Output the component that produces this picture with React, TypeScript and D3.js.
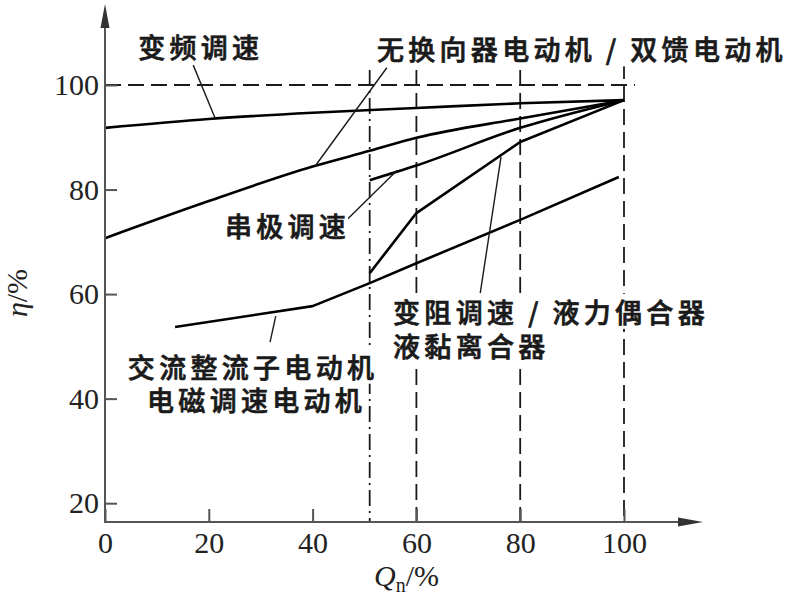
import React, { useRef, useEffect } from 'react';
import * as d3 from 'd3';

// flow rate Qn (%) and efficiency eta (%)
const vfdCurve = [
  { q: 0, eta: 91.8 }, { q: 20, eta: 93.5 }, { q: 40, eta: 94.7 },
  { q: 60, eta: 95.6 }, { q: 80, eta: 96.5 }, { q: 100, eta: 97.1 }
];
const commutatorlessCurve = [
  { q: 0, eta: 70.7 }, { q: 20, eta: 77.8 }, { q: 40, eta: 84.4 },
  { q: 51, eta: 87.4 }, { q: 60, eta: 89.9 }, { q: 80, eta: 93.6 }, { q: 100, eta: 97.1 }
];
const cascadeCurve = [
  { q: 51, eta: 81.8 }, { q: 60, eta: 84.6 }, { q: 80, eta: 91.8 }, { q: 100, eta: 97.1 }
];
const resistorCurve = [
  { q: 51, eta: 64.0 }, { q: 60, eta: 75.5 }, { q: 80, eta: 89.1 }, { q: 100, eta: 97.1 }
];
const commutatorCurve = [
  { q: 13.5, eta: 53.7 }, { q: 40, eta: 57.7 }, { q: 51, eta: 62.1 },
  { q: 60, eta: 65.9 }, { q: 80, eta: 74.2 }, { q: 99, eta: 82.4 }
];

const xTicks = [0, 20, 40, 60, 80, 100];
const yTicks = [20, 40, 60, 80, 100];
const dashedX = [60, 80, 100];
const dashDotX = 51;

// labels: text lines, anchor point (data units)
const labels = [
  { text: '变频调速', q: 6.4, eta: 107.3 },
  { text: '无换向器电动机\u2009/\u2009双馈电动机', q: 52.4, eta: 106.9 },
  { text: '串极调速', q: 23.1, eta: 73.2 },
  { text: '变阻调速\u2009/\u2009液力偶合器', q: 55.5, eta: 56.7 },
  { text: '液黏离合器', q: 55.5, eta: 50.2 },
  { text: '交流整流子电动机', q: 4.4, eta: 46.2 },
  { text: '电磁调速电动机', q: 8.1, eta: 39.9 }
];
const leaders = [
  [[17.0, 103.8], [21.2, 93.7]],
  [[54.3, 103.3], [40.5, 84.5]],
  [[46.6, 74.2], [56.3, 83.7]],
  [[72.3, 60.2], [76.3, 86.2]],
  [[31.8, 50.8], [32.9, 55.8]]
];

const App: React.FC = () => {
  const svgRef = useRef<SVGSVGElement | null>(null);

  useEffect(() => {
    const svg = d3.select(svgRef.current);
    svg.selectAll('*').remove();

    const x = d3.scaleLinear().domain([0, 100]).range([105, 624]);
    const y = d3.scaleLinear().domain([16.4, 100]).range([522, 85]);
    const axisColor = '#555';
    const ink = '#1a1a1a';

    // reference lines
    svg.append('line')
      .attr('x1', x(0)).attr('x2', 635)
      .attr('y1', y(100)).attr('y2', y(100))
      .attr('stroke', ink).attr('stroke-width', 1.8)
      .attr('stroke-dasharray', '16 7');

    svg.selectAll('.vdash')
      .data(dashedX)
      .join('line')
      .attr('x1', d => x(d)).attr('x2', d => x(d))
      .attr('y1', d => (d === 100 ? 63 : 70)).attr('y2', y(16.4))
      .attr('stroke', ink).attr('stroke-width', 1.8)
      .attr('stroke-dasharray', '16 7');

    svg.append('line')
      .attr('x1', x(dashDotX)).attr('x2', x(dashDotX))
      .attr('y1', 70).attr('y2', y(16.4))
      .attr('stroke', ink).attr('stroke-width', 1.8)
      .attr('stroke-dasharray', '16 5 2 5');

    // curves
    const line = d3.line<{ q: number; eta: number }>()
      .x(d => x(d.q))
      .y(d => y(d.eta))
      .curve(d3.curveMonotoneX);
    const straight = d3.line<{ q: number; eta: number }>()
      .x(d => x(d.q))
      .y(d => y(d.eta));

    [vfdCurve, commutatorlessCurve, cascadeCurve].forEach(c => {
      svg.append('path').attr('d', line(c)!)
        .attr('fill', 'none').attr('stroke', '#000').attr('stroke-width', 2.6);
    });
    [resistorCurve, commutatorCurve].forEach(c => {
      svg.append('path').attr('d', straight(c)!)
        .attr('fill', 'none').attr('stroke', '#000').attr('stroke-width', 2.6)
        .attr('stroke-linejoin', 'round');
    });

    // leader lines
    svg.selectAll('.leader')
      .data(leaders)
      .join('line')
      .attr('x1', d => x(d[0][0])).attr('y1', d => y(d[0][1]))
      .attr('x2', d => x(d[1][0])).attr('y2', d => y(d[1][1]))
      .attr('stroke', ink).attr('stroke-width', 1.4);

    // axes
    const yAxis = svg.append('g')
      .attr('transform', `translate(${x(0)},0)`)
      .call(d3.axisLeft(y).tickValues(yTicks).tickSize(-12).tickPadding(6).tickFormat(d3.format('d')));
    const xAxis = svg.append('g')
      .attr('transform', `translate(0,${y(16.4)})`)
      .call(d3.axisBottom(x).tickValues(xTicks).tickSize(-13).tickPadding(10).tickFormat(d3.format('d')));
    [yAxis, xAxis].forEach(g => {
      g.select('.domain').remove();
      g.selectAll('line').attr('stroke', axisColor).attr('stroke-width', 2);
      g.selectAll('text')
        .attr('fill', '#222')
        .style('font-family', '"Liberation Serif", serif')
        .style('font-size', '30px');
    });

    svg.append('line')
      .attr('x1', x(0)).attr('x2', x(0))
      .attr('y1', y(16.4) + 1).attr('y2', 20)
      .attr('stroke', axisColor).attr('stroke-width', 2);
    svg.append('path')
      .attr('d', `M${x(0)},4 L${x(0) - 4.5},28 L${x(0) + 4.5},28 Z`)
      .attr('fill', '#333');
    svg.append('line')
      .attr('x1', x(0) - 1).attr('x2', 685)
      .attr('y1', y(16.4)).attr('y2', y(16.4))
      .attr('stroke', axisColor).attr('stroke-width', 2);
    svg.append('path')
      .attr('d', `M703,${y(16.4)} L678,${y(16.4) - 4.5} L678,${y(16.4) + 4.5} Z`)
      .attr('fill', '#333');

    // axis titles
    const yt = svg.append('text')
      .attr('transform', 'translate(27,293) rotate(-90)')
      .attr('text-anchor', 'middle')
      .attr('fill', '#222')
      .style('font-family', '"Liberation Serif", serif')
      .style('font-size', '30px');
    yt.append('tspan').attr('font-style', 'italic').text('η');
    yt.append('tspan').text('/%');

    const xt = svg.append('text')
      .attr('x', 374).attr('y', 586)
      .attr('fill', '#222')
      .style('font-family', '"Liberation Serif", serif')
      .style('font-size', '30px');
    xt.append('tspan').attr('font-style', 'italic').text('Q');
    xt.append('tspan').attr('dy', 6).style('font-size', '20px').text('n');
    xt.append('tspan').attr('dy', -6).text('/%');

    // curve labels, each on a white backing so the dashed lines break under it
    const lbl = svg.append('g');
    lbl.selectAll('g')
      .data(labels)
      .join('g')
      .each(function (d) {
        const g = d3.select(this);
        const bg = g.append('rect').attr('fill', '#fff');
        const t = g.append('text')
          .attr('x', x(d.q))
          .attr('y', y(d.eta))
          .attr('dominant-baseline', 'central')
          .attr('fill', '#1a1a1a')
          .attr('stroke', '#1a1a1a')
          .attr('stroke-width', 0.7)
          .attr('letter-spacing', 4.3)
          .style('font-family', '"Noto Sans CJK SC", sans-serif')
          .style('font-weight', 500)
          .style('font-size', '27px')
          .text(d.text);
        const b = (t.node() as SVGTextElement).getBBox();
        bg.attr('x', b.x - 2).attr('y', b.y + 2)
          .attr('width', b.width).attr('height', b.height - 4);
      });
  }, []);

  return (
    <svg
      ref={svgRef}
      width={786}
      height={601}
      style={{ position: 'absolute', left: 0, top: 0, background: '#fff' }}
    />
  );
};

export default App;
